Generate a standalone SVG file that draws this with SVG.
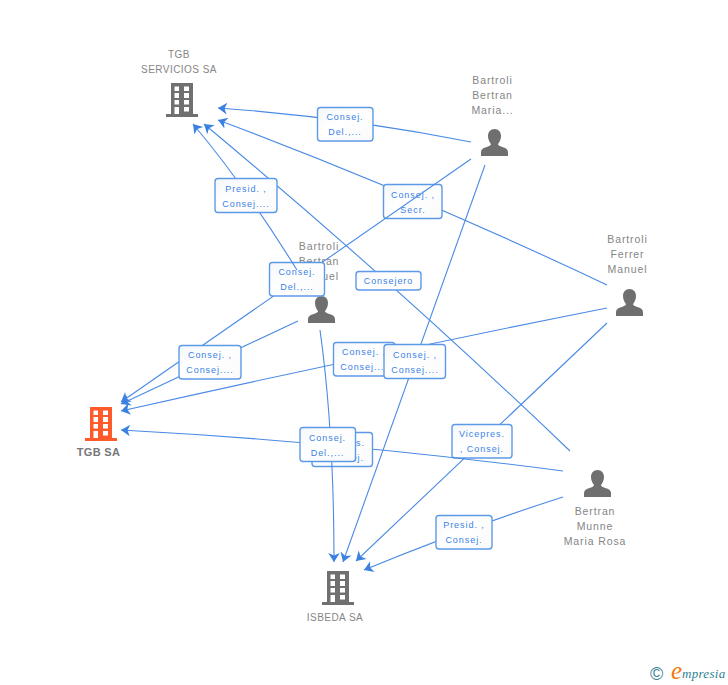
<svg xmlns="http://www.w3.org/2000/svg" xmlns:xlink="http://www.w3.org/1999/xlink" width="728" height="685" viewBox="0 0 728 685">
<style>
.n{font-family:"Liberation Sans",Arial,sans-serif;font-size:10.5px;letter-spacing:.9px;fill:#858585;text-anchor:middle}
.u{font-size:10px;letter-spacing:.45px}
.b{font-weight:bold;font-size:11px;fill:#777;letter-spacing:.3px}
.l{font-family:"Liberation Sans",Arial,sans-serif;font-size:9px;letter-spacing:.95px;fill:#3b82e6;text-anchor:middle}
.e{fill:none;stroke:#4a8ae4;stroke-width:1.1;marker-end:url(#a)}
.r{fill:url(#g);stroke:#5c9ae8;stroke-width:1.4}
</style>
<defs>
<linearGradient id="g" x1="0" y1="0" x2="1" y2="1"><stop offset="0" stop-color="#f4f6f9"/><stop offset=".4" stop-color="#fff"/><stop offset="1" stop-color="#fafafa"/></linearGradient>
<marker id="a" markerUnits="userSpaceOnUse" markerWidth="12" markerHeight="12" viewBox="0 0 12 12" refX="10" refY="6" orient="auto"><path d="M10 6 L1 .2 L3.500 6 L1 11.800Z" fill="#3b82e0"/></marker>
<g id="bld"><path d="M5 0H27V31H32V34H0V31H5Z"/><path fill="#fff" d="M8.500 3.500h4.500v4.500h-4.500zM18 3.500h5v4.500h-5zM8.500 10h4.500v5h-4.500zM18 10h5v5h-5zM8.500 17h4.500v4.500h-4.500zM18 17h5v4.500h-5zM8.500 24h4.500v7h-4.500zM18 24h5v4.500h-5z"/></g>
<path id="psn" d="M13.500 0C17.500 0 20 3 20 7C20 10.500 18.500 13 17 15C17 16.500 19 17.300 22 18.200C25.500 19.300 27 20.500 27 23.500V27H0V23.500C0 20.500 1.500 19.300 5 18.200C8 17.300 10 16.500 10 15C8.500 13 7 10.500 7 7C7 3 9.500 0 13.500 0Z"/>
</defs>
<rect width="728" height="685" fill="#fff"/>
<g id="node-tgb-servicios"><text class="n u" x="179" y="58">TGB</text><text class="n u" x="179" y="73">SERVICIOS SA</text><use href="#bld" x="166" y="83" fill="#707070"/></g>
<g id="node-maria"><text class="n" x="492.500" y="84">Bartroli</text><text class="n" x="492.500" y="99">Bertran</text><text class="n" x="492.500" y="114">Maria...</text><use href="#psn" x="481" y="129" fill="#6f6f6f"/></g>
<g id="node-manuel"><text class="n" x="319" y="250">Bartroli</text><text class="n" x="319" y="265">Bertran</text><text class="n" x="319" y="280">Manuel</text><use href="#psn" x="308" y="296" fill="#6f6f6f"/></g>
<g id="node-ferrer"><text class="n" x="627.500" y="243">Bartroli</text><text class="n" x="627.500" y="258">Ferrer</text><text class="n" x="627.500" y="273">Manuel</text><use href="#psn" x="616" y="289" fill="#6f6f6f"/></g>
<g id="node-bertran"><text class="n" x="595" y="515">Bertran</text><text class="n" x="595" y="530">Munne</text><text class="n" x="595" y="545">Maria Rosa</text><use href="#psn" x="584" y="470" fill="#6f6f6f"/></g>
<g id="node-tgb"><use href="#bld" x="85" y="407" fill="#ff5a2c"/><text class="n b" x="98.500" y="456">TGB SA</text></g>
<g id="node-isbeda"><use href="#bld" x="322" y="571" fill="#707070"/><text class="n u" x="335" y="621">ISBEDA SA</text></g>
<g id="connectors">
<path class="e" d="M471 142Q345 117 218 108"/>
<rect class="r" x="317.500" y="107.500" width="55.500" height="33.500" rx="3"/><text class="l" x="345" y="120">Consej.</text><text class="l" x="345" y="135">Del.,...</text>
<path class="e" d="M607 285Q413 193 218 120"/>
<rect class="r" x="383.500" y="184.500" width="58.500" height="34" rx="3"/><text class="l" x="413" y="198">Consej. ,</text><text class="l" x="413" y="213">Secr.</text>
<path class="e" d="M471 159L121 402"/>
<rect class="r" x="269.500" y="262.500" width="55" height="33.500" rx="3"/><text class="l" x="297" y="275">Consej.</text><text class="l" x="297" y="290">Del.,...</text>
<path class="e" d="M570 451Q387 276 204 124"/>
<rect class="r" x="356" y="271.500" width="65" height="18.500" rx="3"/><text class="l" x="388.500" y="284">Consejero</text>
<path class="e" d="M297 270Q243 183 193 124"/>
<rect class="r" x="215" y="178.500" width="62" height="34" rx="3"/><text class="l" x="246" y="192">Presid. ,</text><text class="l" x="246" y="207">Consej....</text>
<path class="e" d="M298 321L121 404"/>
<rect class="r" x="179" y="345.500" width="62" height="33.500" rx="3"/><text class="l" x="210" y="358">Consej. ,</text><text class="l" x="210" y="373">Consej....</text>
<path class="e" d="M607 308Q365 356 121 411"/>
<rect class="r" x="333.500" y="342.500" width="61.500" height="33.500" rx="3"/><text class="l" x="364" y="355">Consej. ,</text><text class="l" x="364" y="370">Consej....</text>
<path class="e" d="M485 165Q416 358 343 562"/>
<rect class="r" x="384" y="344.500" width="61.500" height="34" rx="3"/><text class="l" x="415" y="358">Consej. ,</text><text class="l" x="415" y="373">Consej....</text>
<path class="e" d="M607 323L356 561"/>
<rect class="r" x="452" y="424.500" width="60" height="33.500" rx="3"/><text class="l" x="482" y="437">Vicepres.</text><text class="l" x="482" y="452">, Consej.</text>
<path class="e" d="M563 471Q342 442 121 430"/>
<rect class="r" x="312" y="432.500" width="60.500" height="34" rx="3"/><text class="l" x="342" y="446">Vicepres.</text><text class="l" x="342" y="461">, Consej.</text>
<path class="e" d="M320 330Q334 430 334 562"/>
<rect class="r" x="300" y="427.500" width="55.500" height="34" rx="3"/><text class="l" x="327.500" y="441">Consej.</text><text class="l" x="327.500" y="456">Del.,...</text>
<path class="e" d="M563 497Q466 528 364 570"/>
<rect class="r" x="436" y="515.500" width="56" height="33.500" rx="3"/><text class="l" x="464" y="528">Presid. ,</text><text class="l" x="464" y="543">Consej.</text>
</g>
<g id="logo"><text x="650" y="680" font-family="'Liberation Sans',sans-serif" font-size="18" fill="#3d7f94">©</text><text x="671" y="679" font-family="'Liberation Serif',serif" font-style="italic" font-size="25" fill="#f07a10">e</text><text x="682" y="678" font-family="'Liberation Serif',serif" font-style="italic" font-size="13" letter-spacing=".3" fill="#2e7f94">mpresia</text></g>
</svg>
